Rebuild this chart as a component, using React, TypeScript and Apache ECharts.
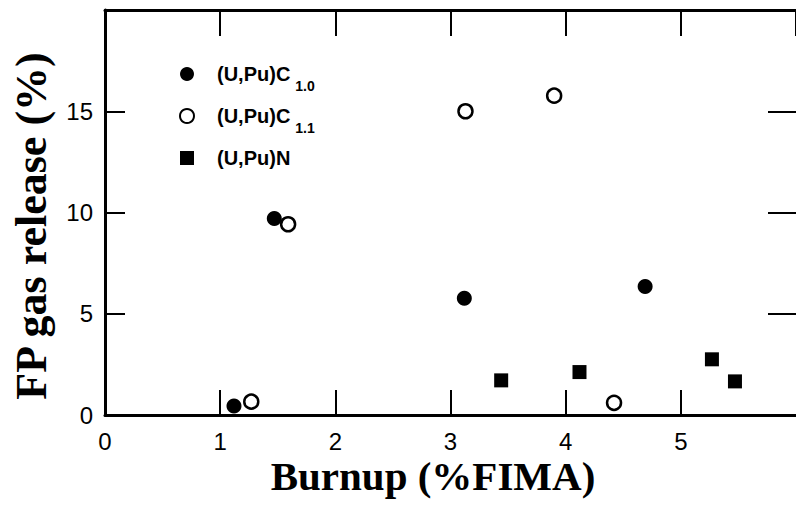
import React, { useEffect, useRef } from "react";
import * as echarts from "echarts";

// Series: (U,Pu)C1.0 — filled circles
const c10Burnup = [1.12, 1.47, 3.12, 4.69];
const c10Release = [0.45, 9.7, 5.77, 6.35];
// Series: (U,Pu)C1.1 — open circles
const c11Burnup = [1.27, 1.59, 3.13, 3.9, 4.42];
const c11Release = [0.66, 9.42, 15.0, 15.77, 0.6];
// Series: (U,Pu)N — filled squares
const nBurnup = [3.44, 4.12, 5.27, 5.47];
const nRelease = [1.71, 2.12, 2.75, 1.66];

const legendBase = ["(U,Pu)C", "(U,Pu)C", "(U,Pu)N"];
const legendSub = ["1.0", "1.1", ""];
const seriesNames = legendBase.map((b, i) => b + legendSub[i]);

const xTitle = "Burnup (%FIMA)";
const yTitle = "FP gas release (%)";

const pair = (xs: number[], ys: number[]) => xs.map((x, i) => [x, ys[i]]);

export default function App() {
  const ref = useRef<HTMLDivElement>(null);
  useEffect(() => {
    if (!ref.current) return;
    const chart = echarts.init(ref.current, null, { renderer: "svg" });
    const tickFont = { fontFamily: "Liberation Sans, Arial, sans-serif", fontSize: 24, color: "#000" };
    chart.setOption({
      animation: false,
      backgroundColor: "#fff",
      grid: { left: 105, right: -12, top: 10, bottom: 92, containLabel: false },
      xAxis: [
        {
          type: "value",
          min: 0,
          max: 6,
          interval: 1,
          position: "bottom",
          axisLine: { show: true, onZero: false, lineStyle: { color: "#000", width: 3 } },
          axisTick: { show: true, inside: true, length: 25, lineStyle: { color: "#000", width: 2 } },
          axisLabel: { ...tickFont, margin: 14, showMaxLabel: false },
          splitLine: { show: false },
        },
        {
          type: "value",
          min: 0,
          max: 6,
          interval: 1,
          position: "top",
          axisLine: { show: true, onZero: false, lineStyle: { color: "#000", width: 3 } },
          axisTick: { show: true, inside: true, length: 26, lineStyle: { color: "#000", width: 2 } },
          axisLabel: { show: false },
          splitLine: { show: false },
        },
      ],
      yAxis: [
        {
          type: "value",
          min: 0,
          max: 20,
          interval: 5,
          position: "left",
          axisLine: { show: true, onZero: false, lineStyle: { color: "#000", width: 3 } },
          axisTick: { show: true, inside: true, length: 20, lineStyle: { color: "#000", width: 2 } },
          axisLabel: { ...tickFont, margin: 12, showMaxLabel: false },
          splitLine: { show: false },
        },
        {
          type: "value",
          min: 0,
          max: 20,
          interval: 5,
          position: "right",
          axisLine: { show: false, onZero: false },
          axisTick: { show: true, inside: true, length: 28, lineStyle: { color: "#000", width: 2 } },
          axisLabel: { show: false },
          splitLine: { show: false },
        },
      ],
      legend: {
        orient: "vertical",
        left: 174,
        top: 50,
        itemWidth: 14,
        itemHeight: 14,
        itemGap: 4,
        data: [
          { name: seriesNames[0], itemStyle: { color: "#000", opacity: 1 } },
          { name: seriesNames[1], itemStyle: { color: "#fff", borderColor: "#000", borderWidth: 2, opacity: 1 } },
          { name: seriesNames[2], itemStyle: { color: "#000", opacity: 1 } },
        ],
        formatter: (name: string) => {
          const i = seriesNames.indexOf(name);
          return `{a|${legendBase[i]}}{b|${legendSub[i] || " "}}`;
        },
        textStyle: {
          color: "#000",
          rich: {
            a: {
              fontFamily: "Liberation Sans, Arial, sans-serif",
              fontWeight: "bold",
              fontSize: 20,
              lineHeight: 38,
              color: "#000",
              padding: [0, 0, 0, 18],
            },
            b: {
              fontFamily: "Liberation Sans, Arial, sans-serif",
              fontWeight: "bold",
              fontSize: 14,
              lineHeight: 14,
              color: "#000",
              verticalAlign: "bottom",
              padding: [24, 0, 0, 5],
            },
          },
        },
      },
      graphic: [
        {
          type: "text",
          x: 433,
          y: 476,
          style: {
            text: xTitle,
            font: "bold 41px 'Liberation Serif', 'Times New Roman', serif",
            fill: "#000",
            align: "center",
            verticalAlign: "middle",
          },
        },
        {
          type: "text",
          x: 31,
          y: 226,
          rotation: Math.PI / 2,
          style: {
            text: yTitle,
            font: "bold 44px 'Liberation Serif', 'Times New Roman', serif",
            fill: "#000",
            align: "center",
            verticalAlign: "middle",
          },
        },
      ],
      series: [
        {
          name: seriesNames[0],
          type: "scatter",
          data: pair(c10Burnup, c10Release),
          symbol: "circle",
          symbolSize: 15,
          itemStyle: { color: "#000", opacity: 1 },
        },
        {
          name: seriesNames[1],
          type: "scatter",
          data: pair(c11Burnup, c11Release),
          symbol: "circle",
          symbolSize: 14,
          itemStyle: { color: "#fff", borderColor: "#000", borderWidth: 2.5, opacity: 1 },
        },
        {
          name: seriesNames[2],
          type: "scatter",
          data: pair(nBurnup, nRelease),
          symbol: "rect",
          symbolSize: 14,
          itemStyle: { color: "#000", opacity: 1 },
        },
      ],
    });
    return () => chart.dispose();
  }, []);
  return (
    <div
      ref={ref}
      style={{ position: "fixed", left: 0, top: 0, width: 796, height: 507, background: "#fff" }}
    />
  );
}
